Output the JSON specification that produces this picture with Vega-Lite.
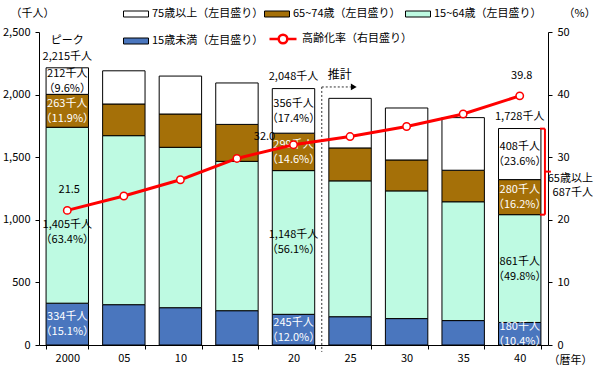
{
  "$schema": "https://vega.github.io/schema/vega-lite/v6.json",
  "width": 509,
  "height": 313,
  "autosize": "none",
  "padding": {"left": 39, "top": 32, "right": 57, "bottom": 30},
  "background": "white",
  "datasets": {
    "pop": [
      {"year": "2000", "group": "15歳未満（左目盛り）", "value": 334, "label": "334千人\n（15.1%）"},
      {"year": "2000", "group": "15~64歳（左目盛り）", "value": 1405, "label": "1,405千人\n（63.4%）"},
      {"year": "2000", "group": "65~74歳（左目盛り）", "value": 263, "label": "263千人\n（11.9%）"},
      {"year": "2000", "group": "75歳以上（左目盛り）", "value": 212, "label": "212千人\n（9.6%）"},
      {"year": "05", "group": "15歳未満（左目盛り）", "value": 322},
      {"year": "05", "group": "15~64歳（左目盛り）", "value": 1350},
      {"year": "05", "group": "65~74歳（左目盛り）", "value": 253},
      {"year": "05", "group": "75歳以上（左目盛り）", "value": 265},
      {"year": "10", "group": "15歳未満（左目盛り）", "value": 298},
      {"year": "10", "group": "15~64歳（左目盛り）", "value": 1281},
      {"year": "10", "group": "65~74歳（左目盛り）", "value": 266},
      {"year": "10", "group": "75歳以上（左目盛り）", "value": 303},
      {"year": "15", "group": "15歳未満（左目盛り）", "value": 274},
      {"year": "15", "group": "15~64歳（左目盛り）", "value": 1193},
      {"year": "15", "group": "65~74歳（左目盛り）", "value": 295},
      {"year": "15", "group": "75歳以上（左目盛り）", "value": 331},
      {"year": "20", "group": "15歳未満（左目盛り）", "value": 245, "label": "245千人\n（12.0%）"},
      {"year": "20", "group": "15~64歳（左目盛り）", "value": 1148, "label": "1,148千人\n（56.1%）"},
      {"year": "20", "group": "65~74歳（左目盛り）", "value": 299, "label": "299千人\n（14.6%）"},
      {"year": "20", "group": "75歳以上（左目盛り）", "value": 356, "label": "356千人\n（17.4%）"},
      {"year": "25", "group": "15歳未満（左目盛り）", "value": 226},
      {"year": "25", "group": "15~64歳（左目盛り）", "value": 1085},
      {"year": "25", "group": "65~74歳（左目盛り）", "value": 263},
      {"year": "25", "group": "75歳以上（左目盛り）", "value": 396},
      {"year": "30", "group": "15歳未満（左目盛り）", "value": 211},
      {"year": "30", "group": "15~64歳（左目盛り）", "value": 1020},
      {"year": "30", "group": "65~74歳（左目盛り）", "value": 247},
      {"year": "30", "group": "75歳以上（左目盛り）", "value": 415},
      {"year": "35", "group": "15歳未満（左目盛り）", "value": 195},
      {"year": "35", "group": "15~64歳（左目盛り）", "value": 949},
      {"year": "35", "group": "65~74歳（左目盛り）", "value": 252},
      {"year": "35", "group": "75歳以上（左目盛り）", "value": 420},
      {"year": "40", "group": "15歳未満（左目盛り）", "value": 180, "label": "180千人\n（10.4%）"},
      {"year": "40", "group": "15~64歳（左目盛り）", "value": 861, "label": "861千人\n（49.8%）"},
      {"year": "40", "group": "65~74歳（左目盛り）", "value": 280, "label": "280千人\n（16.2%）"},
      {"year": "40", "group": "75歳以上（左目盛り）", "value": 408, "label": "408千人\n（23.6%）"}
    ],
    "rate": [
      {"year": "2000", "rate": 21.5, "show": 1},
      {"year": "05", "rate": 23.8},
      {"year": "10", "rate": 26.4},
      {"year": "15", "rate": 29.8},
      {"year": "20", "rate": 32.0, "show": 2},
      {"year": "25", "rate": 33.3},
      {"year": "30", "rate": 34.9},
      {"year": "35", "rate": 36.9},
      {"year": "40", "rate": 39.8, "show": 1}
    ],
    "tot": [
      {"year": "2000", "total": 2215, "label": "ピーク\n2,215千人", "lines": 2},
      {"year": "20", "total": 2048, "label": "2,048千人", "lines": 1},
      {"year": "40", "total": 1728, "label": "1,728千人", "lines": 1}
    ]
  },
  "config": {
    "view": {"stroke": null},
    "font": "Noto Sans CJK JP",
    "text": {"font": "Noto Sans CJK JP", "fontSize": 11},
    "axis": {
      "labelFont": "Noto Sans CJK JP", "labelFontSize": 11, "labelColor": "black",
      "titleFont": "Noto Sans CJK JP", "titleFontSize": 11, "titleFontWeight": "normal", "titleColor": "black",
      "domainColor": "black", "tickColor": "black", "tickSize": 4, "grid": false
    },
    "legend": {"labelFont": "Noto Sans CJK JP", "labelFontSize": 11, "labelColor": "black"}
  },
  "layer": [
    {
      "layer": [
        {
          "data": {"name": "pop"},
          "transform": [
            {"calculate": "indexof(['15歳未満（左目盛り）','15~64歳（左目盛り）','65~74歳（左目盛り）','75歳以上（左目盛り）'], datum.group)", "as": "idx"},
            {"stack": "value", "groupby": ["year"], "sort": [{"field": "idx", "order": "ascending"}], "as": ["v0", "v1"]},
            {"calculate": "(datum.v0 + datum.v1) / 2", "as": "mid"}
          ],
          "layer": [
            {
              "mark": {"type": "bar", "stroke": "black", "strokeWidth": 1},
              "encoding": {
                "x": {
                  "field": "year", "type": "ordinal", "title": "（暦年）",
                  "scale": {"domain": ["2000", "05", "10", "15", "20", "25", "30", "35", "40"], "paddingInner": 0.25, "paddingOuter": 0.125},
                  "axis": {"labelAngle": 0, "tickBand": "extent", "labelPadding": 3, "titleAngle": 0, "titleAlign": "left", "titleBaseline": "middle", "titleX": 509, "titleY": 15}
                },
                "y": {
                  "field": "v0", "type": "quantitative", "title": "（千人）",
                  "scale": {"domain": [0, 2500], "nice": false},
                  "axis": {"values": [0, 500, 1000, 1500, 2000, 2500], "labelExpr": "format(datum.value, ',')", "labelPadding": 5, "titleAngle": 0, "titleAlign": "left", "titleBaseline": "middle", "titleX": -29, "titleY": -19}
                },
                "y2": {"field": "v1"},
                "color": {
                  "field": "group", "type": "nominal",
                  "scale": {
                    "domain": ["75歳以上（左目盛り）", "65~74歳（左目盛り）", "15~64歳（左目盛り）", "15歳未満（左目盛り）"],
                    "range": ["#FFFFFF", "#A57008", "#BEFAE2", "#4A76BE"]
                  },
                  "legend": {
                    "title": null, "orient": "none", "legendX": 84, "legendY": -31, "direction": "horizontal", "columns": 3,
                    "gridAlign": "all",
                    "symbolType": "M-1,-0.24H1V0.24H-1Z", "symbolSize": 625, "symbolStrokeColor": "black", "symbolStrokeWidth": 1,
                    "labelOffset": 3, "columnPadding": -3, "rowPadding": 9, "labelLimit": 250, "symbolOpacity": 1
                  }
                }
              }
            },
            {
              "transform": [{"filter": "datum.label && !(datum.year == '2000' && datum.idx == 1)"}],
              "mark": {"type": "text", "lineBreak": "\n", "lineHeight": 15, "baseline": "middle", "align": "center", "dy": -7},
              "encoding": {
                "x": {"field": "year", "type": "ordinal", "title": "（暦年）"},
                "y": {"field": "mid", "type": "quantitative", "title": "（千人）"},
                "text": {"field": "label"},
                "color": {"condition": {"test": "datum.idx == 0 || datum.idx == 2", "value": "white"}, "value": "black"}
              }
            },
            {
              "transform": [{"filter": "datum.year == '2000' && datum.idx == 1"}],
              "mark": {"type": "text", "lineBreak": "\n", "lineHeight": 15, "baseline": "middle", "align": "center", "dy": 10, "color": "black"},
              "encoding": {
                "x": {"field": "year", "type": "ordinal", "title": "（暦年）"},
                "y": {"field": "mid", "type": "quantitative", "title": "（千人）"},
                "text": {"field": "label"}
              }
            }
          ]
        },
        {
          "data": {"name": "tot"},
          "transform": [{"filter": "datum.lines == 1"}],
          "mark": {"type": "text", "baseline": "bottom", "align": "center", "dy": -7, "color": "black"},
          "encoding": {
            "x": {"field": "year", "type": "ordinal", "title": "（暦年）"},
            "y": {"field": "total", "type": "quantitative", "title": "（千人）"},
            "text": {"field": "label"}
          }
        },
        {
          "data": {"name": "tot"},
          "transform": [{"filter": "datum.lines == 2"}],
          "mark": {"type": "text", "lineBreak": "\n", "lineHeight": 16, "baseline": "bottom", "align": "center", "dy": -22, "color": "black"},
          "encoding": {
            "x": {"field": "year", "type": "ordinal", "title": "（暦年）"},
            "y": {"field": "total", "type": "quantitative", "title": "（千人）"},
            "text": {"field": "label"}
          }
        },
        {
          "data": {"values": [{}]},
          "mark": {"type": "rule", "strokeDash": [2, 2], "color": "#333333", "strokeWidth": 1},
          "encoding": {
            "x": {"datum": "20", "type": "ordinal", "bandPosition": 1.1667},
            "y": {"datum": 2061},
            "y2": {"datum": -55}
          }
        },
        {
          "data": {"values": [{}]},
          "mark": {"type": "rule", "strokeDash": [2, 2], "color": "#333333", "strokeWidth": 1, "x2Offset": 29},
          "encoding": {
            "x": {"datum": "20", "type": "ordinal", "bandPosition": 1.1667},
            "x2": {"datum": "20", "bandPosition": 1.1667},
            "y": {"datum": 2061}
          }
        },
        {
          "data": {"values": [{}]},
          "mark": {"type": "point", "shape": "triangle-right", "filled": true, "color": "black", "size": 45, "opacity": 1, "xOffset": 32},
          "encoding": {
            "x": {"datum": "20", "type": "ordinal", "bandPosition": 1.1667},
            "y": {"datum": 2061}
          }
        },
        {
          "data": {"values": [{}]},
          "mark": {"type": "text", "align": "center", "baseline": "middle", "dx": 18, "dy": -12, "fontSize": 12, "color": "black"},
          "encoding": {
            "x": {"datum": "20", "type": "ordinal", "bandPosition": 1.1667},
            "y": {"datum": 2061},
            "text": {"value": "推計"}
          }
        },
        {
          "data": {"values": [{}]},
          "mark": {"type": "rule", "color": "#FF0000", "strokeWidth": 2, "xOffset": 4},
          "encoding": {
            "x": {"datum": "40", "type": "ordinal", "bandPosition": 1},
            "y": {"datum": 1728},
            "y2": {"datum": 1041}
          }
        },
        {
          "data": {"values": [{"v": 1728}, {"v": 1041}]},
          "mark": {"type": "rule", "color": "#FF0000", "strokeWidth": 2, "xOffset": -1, "x2Offset": 4},
          "encoding": {
            "x": {"datum": "40", "type": "ordinal", "bandPosition": 1},
            "x2": {"datum": "40", "bandPosition": 1},
            "y": {"field": "v", "type": "quantitative"}
          }
        },
        {
          "data": {"values": [{}]},
          "mark": {"type": "rule", "color": "#FF0000", "strokeWidth": 2, "xOffset": 4, "x2Offset": 10},
          "encoding": {
            "x": {"datum": "40", "type": "ordinal", "bandPosition": 1},
            "x2": {"datum": "40", "bandPosition": 1},
            "y": {"datum": 1385}
          }
        },
        {
          "data": {"values": [{}]},
          "mark": {"type": "text", "align": "right", "baseline": "top", "lineBreak": "\n", "lineHeight": 14, "dx": 52, "dy": 1, "color": "black"},
          "encoding": {
            "x": {"datum": "40", "type": "ordinal", "bandPosition": 1},
            "y": {"datum": 1385},
            "text": {"value": "65歳以上\n687千人"}
          }
        }
      ]
    },
    {
      "data": {"name": "rate"},
      "layer": [
        {
          "mark": {"type": "line", "color": "#FF0000", "strokeWidth": 3, "point": {"filled": true, "fill": "white", "stroke": "#FF0000", "strokeWidth": 1.5, "size": 55}},
          "encoding": {
            "x": {"field": "year", "type": "ordinal", "title": "（暦年）"},
            "y": {
              "field": "rate", "type": "quantitative", "title": "（%）",
              "scale": {"domain": [0, 50], "nice": false},
              "axis": {"orient": "right", "values": [0, 10, 20, 30, 40, 50], "labelPadding": 5, "titleAngle": 0, "titleAlign": "left", "titleBaseline": "middle", "titleX": 15, "titleY": -19}
            },
            "stroke": {
              "datum": "高齢化率（右目盛り）",
              "scale": {"range": ["#FF0000"]},
              "legend": {
                "title": null, "orient": "none", "legendX": 229, "legendY": -8,
                "symbolType": "M-1,0H-0.32M0.32,0H1M0.32,0A0.32,0.32 0 1,1 -0.32,0A0.32,0.32 0 1,1 0.32,0",
                "symbolSize": 729, "symbolStrokeWidth": 2.5, "symbolFillColor": "white", "labelOffset": 4, "labelLimit": 250
              }
            }
          }
        },
        {
          "transform": [{"filter": "datum.show == 1"}],
          "mark": {"type": "text", "align": "center", "baseline": "middle", "dx": 2, "dy": -20, "color": "black"},
          "encoding": {
            "x": {"field": "year", "type": "ordinal", "title": "（暦年）"},
            "y": {"field": "rate", "type": "quantitative", "title": "（%）"},
            "text": {"field": "rate", "type": "quantitative", "format": ".1f"}
          }
        },
        {
          "transform": [{"filter": "datum.show == 2"}],
          "mark": {"type": "text", "align": "center", "baseline": "middle", "dx": -29, "dy": -8, "color": "black"},
          "encoding": {
            "x": {"field": "year", "type": "ordinal", "title": "（暦年）"},
            "y": {"field": "rate", "type": "quantitative", "title": "（%）"},
            "text": {"field": "rate", "type": "quantitative", "format": ".1f"}
          }
        }
      ]
    }
  ],
  "resolve": {"scale": {"y": "independent"}}
}
